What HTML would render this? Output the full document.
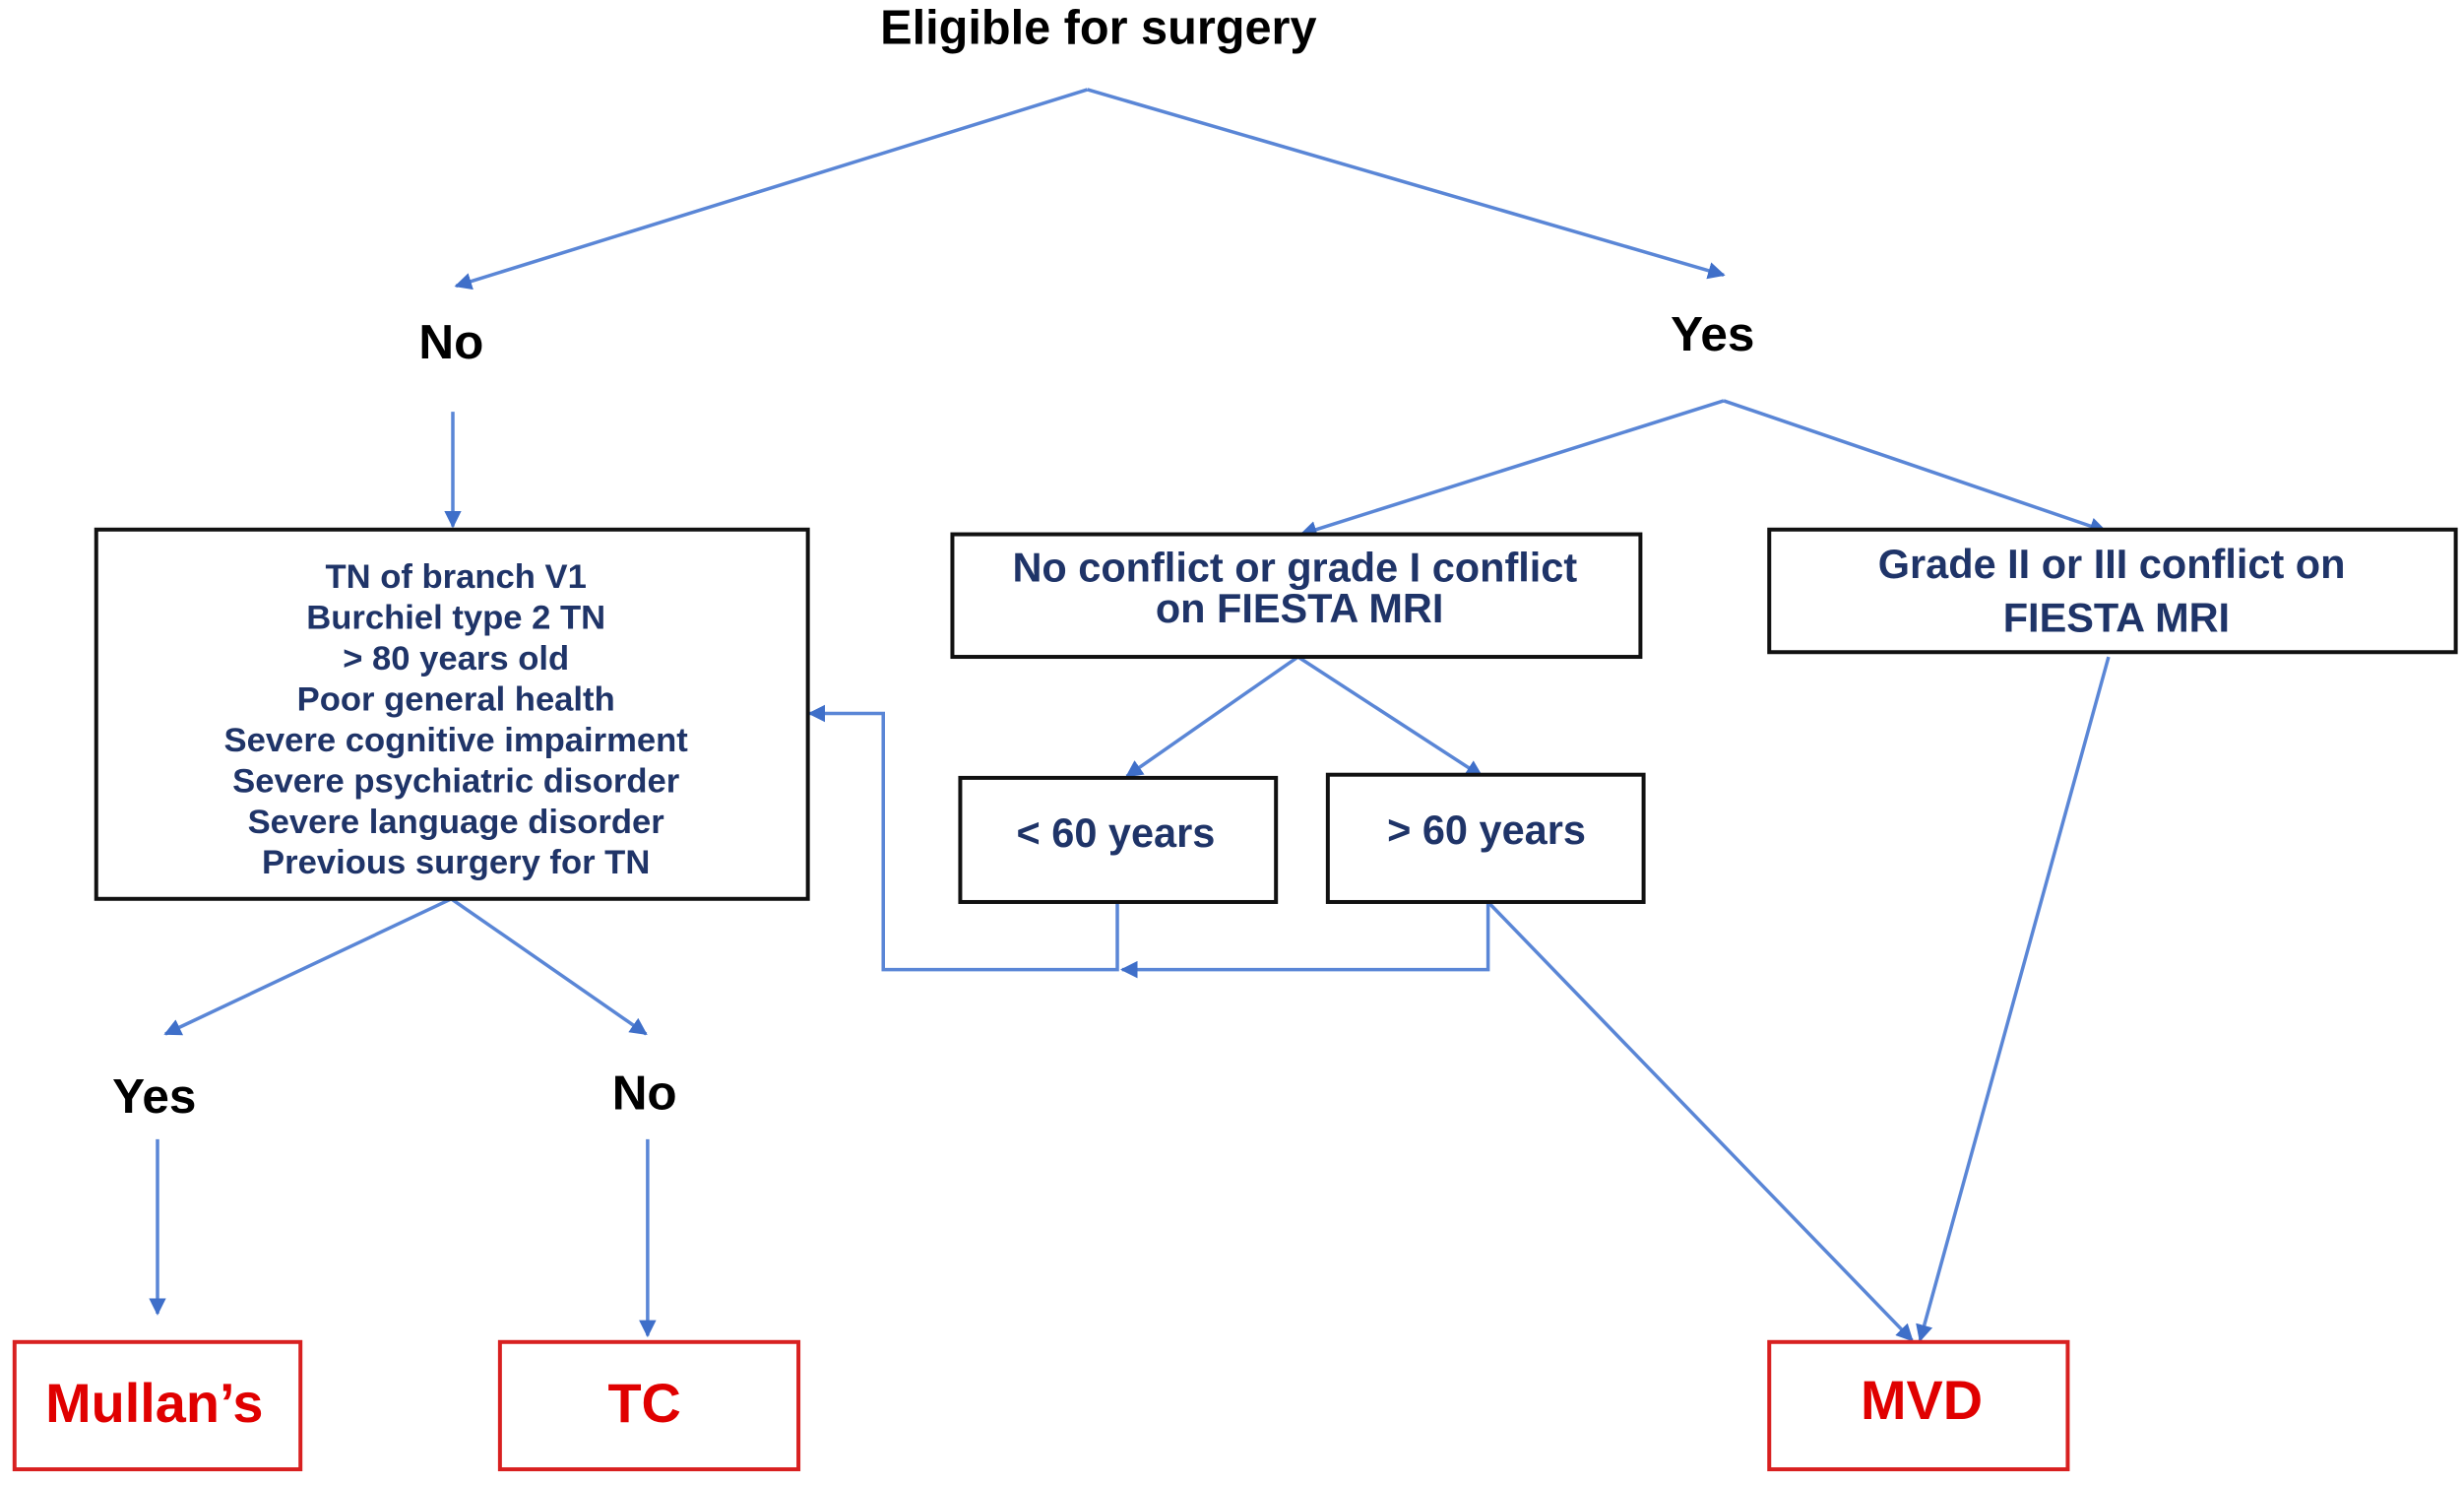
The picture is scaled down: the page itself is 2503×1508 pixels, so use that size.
<!DOCTYPE html>
<html><head><style>html,body{margin:0;padding:0;background:#fff;}svg{display:block}</style></head><body>
<svg width="2503" height="1508" viewBox="0 0 1568 945" xmlns="http://www.w3.org/2000/svg" font-family="Liberation Sans, sans-serif" font-weight="bold">
<defs><marker id="a" viewBox="0 0 10 10" refX="9" refY="5" markerWidth="5" markerHeight="5" orient="auto"><path d="M0,0L10,5L0,10z" fill="#3f6fc9"/></marker></defs>
<g stroke="#5a86d6" stroke-width="2.2" fill="none" marker-end="url(#a)">
<path d="M692,57L290,182"/><path d="M692,57L1097,175"/>
<path d="M288,262L288,335"/>
<path d="M1097,255L828,340"/><path d="M1097,255L1340,338"/>
<path d="M826,418L717,494"/><path d="M826,418L943,494"/>
<path d="M711,574L711,617L562,617L562,454L515,454"/>
<path d="M947,574L947,617L714,617"/>
<path d="M947,574L1217,853"/><path d="M1342,418L1222,853"/>
<path d="M287,572L105,658"/><path d="M287,572L411,658"/>
<path d="M100,725L100,836"/><path d="M412,725L412,850"/>
</g>
<g stroke="#111" stroke-width="2.5" fill="#fff">
<rect x="61" y="337" width="453" height="235"/>
<rect x="606" y="340" width="438" height="78"/>
<rect x="1126" y="337" width="437" height="78"/>
<rect x="611" y="495" width="201" height="79"/>
<rect x="845" y="493" width="201" height="81"/>
</g>
<g stroke="#d82020" stroke-width="2.5" fill="#fff">
<rect x="9" y="854" width="182" height="81"/>
<rect x="318" y="854" width="190" height="81"/>
<rect x="1126" y="854" width="190" height="81"/>
</g>
<g text-anchor="middle" fill="#000" font-size="31">
<text x="699" y="28" font-size="30.5">Eligible for surgery</text>
<text x="287" y="228">No</text><text x="1090" y="223">Yes</text>
<text x="98" y="708">Yes</text><text x="410" y="706">No</text>
</g>
<g text-anchor="middle" fill="#1f3468" font-size="21.7">
<text x="290" y="374">TN of branch V1</text>
<text x="290" y="400">Burchiel type 2 TN</text>
<text x="290" y="426">&gt; 80 years old</text>
<text x="290" y="452">Poor general health</text>
<text x="290" y="478">Severe cognitive impairment</text>
<text x="290" y="504">Severe psychiatric disorder</text>
<text x="290" y="530">Severe language disorder</text>
<text x="290" y="556">Previous surgery for TN</text>
</g>
<g text-anchor="middle" fill="#1f3468" font-size="26">
<text x="824" y="370">No conflict or grade I conflict</text>
<text x="827" y="396">on FIESTA MRI</text>
<text x="1344" y="368">Grade II or III conflict on</text>
<text x="1347" y="402">FIESTA MRI</text>
<text x="710" y="539">&lt; 60 years</text>
<text x="946" y="537">&gt; 60 years</text>
</g>
<g text-anchor="middle" fill="#e00000" font-size="35">
<text x="98" y="905">Mullan’s</text>
<text x="410" y="905">TC</text>
<text x="1223" y="903">MVD</text>
</g>
</svg>
</body></html>
